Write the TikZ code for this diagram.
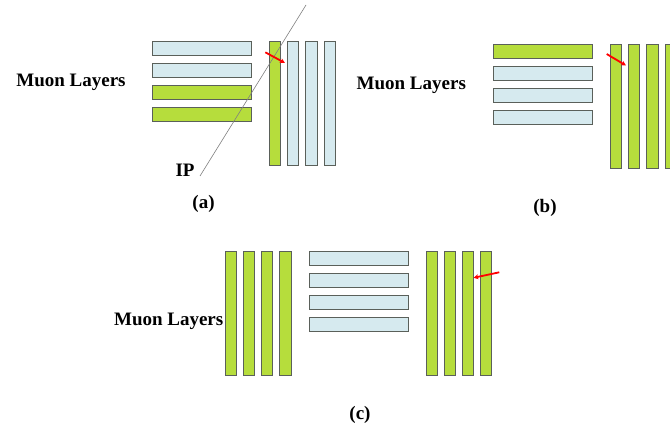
\documentclass[tikz,border=0pt]{standalone}
\usepackage{fontspec}
\setmainfont{Liberation Serif}
\usetikzlibrary{arrows.meta}
\definecolor{barG}{RGB}{182,221,60}
\definecolor{barB}{RGB}{214,234,239}
\definecolor{barEdge}{RGB}{90,96,90}
\begin{document}
\begin{tikzpicture}[x=1pt,y=-1pt,
  bar/.style={draw=barEdge,line width=0.9pt},
  gbar/.style={bar,fill=barG},
  bbar/.style={bar,fill=barB},
  lbl/.style={font=\fontsize{19}{22}\selectfont\bfseries,inner sep=0pt},
  hit/.style={draw=red,line width=1.8pt,-{Stealth[length=5pt,width=5pt]}}]
\useasboundingbox (0,0) rectangle (670,428);
\fill[white] (0,0) rectangle (670,428);
\begin{scope}
\clip (0,0) rectangle (670,428);
% ---- (a)
\draw[bbar] (152.5,41.5) rectangle (251,55.5);
\draw[bbar] (152.5,63.3) rectangle (251,77.3);
\draw[gbar] (152.5,85.3) rectangle (251,99.3);
\draw[gbar] (152.5,107.3) rectangle (251,121.3);
\draw[gbar] (269.3,41.3) rectangle (280.7,165.3);
\draw[bbar] (287.3,41.3) rectangle (298.7,165.3);
\draw[bbar] (305.7,41.3) rectangle (317,165.3);
\draw[bbar] (324.3,41.3) rectangle (335.5,165.3);
\coordinate (ipA) at (200,176);
\coordinate (ipB) at (306,5);
\draw[gray,line width=0.6pt] (ipA) -- (ipB);
\coordinate (ha1) at (265.3,52.3);
\coordinate (ha2) at (285,63);
\draw[hit] (ha1) -- (ha2);
\node[lbl] (mla) at (71,82) {Muon Layers};
\node[lbl] (ip) at (185,170) {IP};
\node[lbl] (la) at (203.5,204) {(a)};
% ---- (b)
\draw[gbar] (493.3,44.3) rectangle (592.3,58.3);
\draw[bbar] (493.3,66.3) rectangle (592.3,80.3);
\draw[bbar] (493.3,88.3) rectangle (592.3,102.3);
\draw[bbar] (493.3,110.3) rectangle (592.3,124.3);
\draw[gbar] (610.3,44.3) rectangle (621.7,168.3);
\draw[gbar] (628.3,44.3) rectangle (639.7,168.3);
\draw[gbar] (646.7,44.3) rectangle (658.3,168.3);
\draw[gbar] (665,44.3) rectangle (676.3,168.3);
\coordinate (hb1) at (606.7,54);
\coordinate (hb2) at (626,65.5);
\draw[hit] (hb1) -- (hb2);
\node[lbl] (mlb) at (411.3,85) {Muon Layers};
\node[lbl] (lb) at (545,208) {(b)};
% ---- (c)
\draw[gbar] (225.3,251.7) rectangle (236.5,375.7);
\draw[gbar] (243.3,251.7) rectangle (254.5,375.7);
\draw[gbar] (261.3,251.7) rectangle (272.7,375.7);
\draw[gbar] (279.7,251.7) rectangle (291,375.7);
\draw[bbar] (309,251.7) rectangle (408,265.7);
\draw[bbar] (309,273.5) rectangle (408,287.7);
\draw[bbar] (309,295.5) rectangle (408,309.7);
\draw[bbar] (309,317.5) rectangle (408,331.7);
\draw[gbar] (426.3,251.7) rectangle (437.5,375.7);
\draw[gbar] (444.2,251.7) rectangle (455.5,375.7);
\draw[gbar] (462.3,251.7) rectangle (473.7,375.7);
\draw[gbar] (480.5,251.7) rectangle (491.7,375.7);
\coordinate (hc1) at (499.3,272.3);
\coordinate (hc2) at (473.5,277.8);
\draw[hit] (hc1) -- (hc2);
\node[lbl] (mlc) at (168.7,321) {Muon Layers};
\node[lbl] (lc) at (360,415) {(c)};
\end{scope}
\end{tikzpicture}
\end{document}
